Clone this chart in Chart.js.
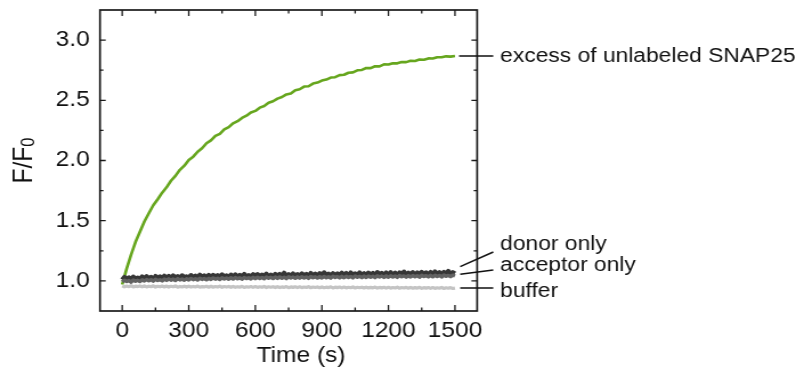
<!DOCTYPE html>
<html>
<head>
<meta charset="utf-8">
<script src="https://cdn.jsdelivr.net/npm/chart.js@4.4.1/dist/chart.umd.min.js"></script>
<style>
  html, body { margin: 0; padding: 0; background: #fff; overflow: hidden; }
  #wrap { width: 698px; height: 370px; transform: scaleX(1.1404); transform-origin: 0 0; }
  canvas { display: block; }
</style>
</head>
<body>
<div id="wrap"><canvas id="c" width="698" height="370"></canvas></div>
<script>
// Time stamps (s) of the SNAP25 trace, one reading every 20 s
const timeS = [0,20,40,60,80,100,120,140,160,180,200,220,240,260,280,300,320,340,360,380,
  400,420,440,460,480,500,520,540,560,580,600,620,640,660,680,700,720,740,760,780,
  800,820,840,860,880,900,920,940,960,980,1000,1020,1040,1060,1080,1100,1120,1140,1160,1180,
  1200,1220,1240,1260,1280,1300,1320,1340,1360,1380,1400,1420,1440,1460,1480,1500];

// Time stamps (s) of the control traces, one reading every 10 s
const timeFine = [
  0,10,20,30,40,50,60,70,80,90, 100,110,120,130,140,150,160,170,180,190,
  200,210,220,230,240,250,260,270,280,290, 300,310,320,330,340,350,360,370,380,390,
  400,410,420,430,440,450,460,470,480,490, 500,510,520,530,540,550,560,570,580,590,
  600,610,620,630,640,650,660,670,680,690, 700,710,720,730,740,750,760,770,780,790,
  800,810,820,830,840,850,860,870,880,890, 900,910,920,930,940,950,960,970,980,990,
  1000,1010,1020,1030,1040,1050,1060,1070,1080,1090, 1100,1110,1120,1130,1140,1150,1160,1170,1180,1190,
  1200,1210,1220,1230,1240,1250,1260,1270,1280,1290, 1300,1310,1320,1330,1340,1350,1360,1370,1380,1390,
  1400,1410,1420,1430,1440,1450,1460,1470,1480,1490, 1500];

// F/F0 traces
const excessSnap25 = [0.970,1.102,1.218,1.323,1.408,1.493,1.562,1.628,1.678,1.733,1.777,1.832,1.872,1.923,1.957,2.004,2.032,2.073,2.102,2.143,
  2.167,2.204,2.222,2.258,2.277,2.309,2.327,2.354,2.372,2.399,2.412,2.439,2.452,2.479,2.492,2.514,2.527,2.549,2.557,2.584,
  2.592,2.614,2.617,2.639,2.647,2.664,2.672,2.689,2.692,2.709,2.712,2.729,2.732,2.749,2.752,2.768,2.767,2.783,2.782,2.798,
  2.797,2.808,2.807,2.818,2.817,2.828,2.827,2.838,2.837,2.848,2.847,2.858,2.857,2.865,2.863,2.868];

const donorOnly = [
  1.010,1.034,1.016,1.030,1.008,1.036,1.020,1.028,1.012,1.038, 1.018,1.040,1.022,1.034,1.015,1.041,1.025,1.037,1.019,1.043,
  1.024,1.042,1.021,1.045,1.028,1.040,1.023,1.047,1.030,1.039, 1.026,1.049,1.031,1.044,1.027,1.052,1.034,1.046,1.029,1.050,
  1.032,1.051,1.030,1.048,1.036,1.055,1.033,1.047,1.029,1.053, 1.035,1.054,1.032,1.050,1.038,1.058,1.034,1.049,1.036,1.056,
  1.037,1.057,1.035,1.053,1.040,1.061,1.038,1.052,1.036,1.059, 1.040,1.058,1.037,1.068,1.042,1.056,1.039,1.062,1.043,1.057,
  1.041,1.063,1.044,1.058,1.039,1.066,1.045,1.060,1.042,1.064, 1.044,1.072,1.046,1.061,1.043,1.065,1.048,1.062,1.045,1.068,
  1.047,1.066,1.044,1.070,1.049,1.063,1.046,1.071,1.050,1.064, 1.048,1.069,1.051,1.066,1.047,1.074,1.052,1.067,1.049,1.070,
  1.050,1.072,1.053,1.068,1.049,1.071,1.054,1.078,1.052,1.069, 1.053,1.073,1.051,1.070,1.055,1.076,1.052,1.071,1.056,1.074,
  1.054,1.079,1.057,1.072,1.053,1.075,1.058,1.083,1.055,1.073, 1.062];

const acceptorOnly = [
  0.992,1.006,0.995,1.004,0.990,1.008,0.997,1.005,0.994,1.009, 0.999,1.012,1.001,1.011,0.998,1.014,1.003,1.010,1.000,1.015,
  1.004,1.017,1.006,1.015,1.003,1.019,1.008,1.016,1.005,1.018, 1.008,1.021,1.010,1.019,1.007,1.023,1.012,1.020,1.009,1.022,
  1.012,1.025,1.014,1.023,1.011,1.026,1.016,1.024,1.013,1.027, 1.015,1.028,1.017,1.026,1.014,1.029,1.019,1.027,1.016,1.030,
  1.018,1.031,1.020,1.029,1.017,1.032,1.022,1.030,1.019,1.033, 1.020,1.033,1.022,1.031,1.019,1.035,1.024,1.032,1.021,1.034,
  1.022,1.035,1.024,1.033,1.021,1.037,1.026,1.034,1.023,1.036, 1.024,1.037,1.026,1.035,1.023,1.039,1.028,1.036,1.025,1.038,
  1.026,1.039,1.028,1.037,1.025,1.041,1.030,1.038,1.027,1.040, 1.028,1.041,1.030,1.039,1.027,1.043,1.032,1.040,1.029,1.042,
  1.030,1.043,1.032,1.041,1.029,1.045,1.034,1.042,1.031,1.044, 1.032,1.045,1.034,1.043,1.031,1.047,1.036,1.044,1.033,1.046,
  1.034,1.047,1.036,1.045,1.033,1.049,1.038,1.046,1.035,1.048, 1.041];

const buffer = [
  0.959,0.951,0.957,0.952,0.960,0.950,0.956,0.953,0.958,0.951, 0.958,0.950,0.956,0.952,0.959,0.949,0.955,0.951,0.957,0.950,
  0.957,0.949,0.955,0.951,0.958,0.948,0.954,0.950,0.956,0.949, 0.956,0.949,0.954,0.950,0.957,0.948,0.953,0.950,0.955,0.948,
  0.955,0.948,0.953,0.949,0.956,0.947,0.953,0.949,0.954,0.947, 0.954,0.947,0.952,0.948,0.955,0.946,0.952,0.948,0.953,0.946,
  0.953,0.946,0.951,0.947,0.954,0.945,0.951,0.947,0.952,0.945, 0.952,0.945,0.950,0.946,0.953,0.944,0.950,0.946,0.951,0.944,
  0.951,0.944,0.949,0.945,0.952,0.943,0.949,0.945,0.950,0.943, 0.950,0.943,0.948,0.944,0.951,0.942,0.948,0.944,0.949,0.942,
  0.949,0.942,0.947,0.943,0.950,0.941,0.947,0.943,0.948,0.941, 0.948,0.941,0.946,0.942,0.949,0.940,0.946,0.942,0.947,0.940,
  0.947,0.940,0.945,0.941,0.948,0.939,0.945,0.941,0.946,0.939, 0.946,0.939,0.944,0.940,0.947,0.938,0.944,0.940,0.945,0.938,
  0.945,0.938,0.943,0.939,0.946,0.937,0.943,0.939,0.944,0.937, 0.940];

// Axis ticks
const xTicks = [0, 300, 600, 900, 1200, 1500];
const xMinorTicks = [150, 450, 750, 1050, 1350];
const yTicks = [1.0, 1.5, 2.0, 2.5, 3.0];
const yMinorTicks = [1.25, 1.75, 2.25, 2.75];

const FONT = "'Liberation Sans', Arial, Helvetica, sans-serif";

const toXY = (times, arr) => arr.map((v, i) => ({ x: times[i], y: v }));

const traces = [
  { label: 'buffer', data: toXY(timeFine, buffer), borderColor: '#c4c4c4', borderWidth: 3.2 },
  { label: 'acceptor only', data: toXY(timeFine, acceptorOnly), borderColor: '#626262', borderWidth: 3.4 },
  { label: 'donor only', data: toXY(timeFine, donorOnly), borderColor: '#363636', borderWidth: 4 },
  { label: 'excess of unlabeled SNAP25', data: toXY(timeS, excessSnap25), borderColor: '#66a61e', borderWidth: 2.6 }
];

// Boxed frame with inward ticks, trace labels and the axis titles
const decorations = {
  id: 'decorations',
  afterDatasetsDraw(chart) {
    const { ctx, chartArea: a, scales: { x, y } } = chart;
    ctx.save();
    ctx.strokeStyle = '#1a1a1a';
    ctx.lineWidth = 1.7;
    ctx.strokeRect(a.left, a.top, a.right - a.left, a.bottom - a.top);

    ctx.lineWidth = 1.3;
    ctx.beginPath();
    const vTick = (v, len) => {
      const px = x.getPixelForValue(v);
      ctx.moveTo(px, a.bottom); ctx.lineTo(px, a.bottom - len);
      ctx.moveTo(px, a.top); ctx.lineTo(px, a.top + len);
    };
    const hTick = (v, len) => {
      const py = y.getPixelForValue(v);
      ctx.moveTo(a.left, py); ctx.lineTo(a.left + len, py);
      ctx.moveTo(a.right, py); ctx.lineTo(a.right - len, py);
    };
    xTicks.forEach(v => vTick(v, 6));
    xMinorTicks.forEach(v => vTick(v, 3.5));
    yTicks.forEach(v => hTick(v, 5));
    yMinorTicks.forEach(v => hTick(v, 3));
    ctx.stroke();

    // connector lines from trace ends to their labels
    const last = arr => arr[arr.length - 1];
    const x0 = 403.5, x1 = 432.5;
    ctx.lineWidth = 1.5;
    ctx.strokeStyle = '#111';
    ctx.beginPath();
    const yEx = y.getPixelForValue(last(excessSnap25));
    ctx.moveTo(x0 - 1, yEx); ctx.lineTo(x1, yEx);
    ctx.moveTo(x0, 266.7); ctx.lineTo(x1, 252);
    ctx.moveTo(x0, 274.3); ctx.lineTo(x1, 270);
    const yBuf = y.getPixelForValue(last(buffer));
    ctx.moveTo(x0, yBuf); ctx.lineTo(x1, yBuf);
    ctx.stroke();

    ctx.fillStyle = '#111';
    ctx.font = `20px ${FONT}`;
    ctx.textAlign = 'left';
    ctx.textBaseline = 'alphabetic';
    ctx.fillText('excess of unlabeled SNAP25', 438.6, 62);
    ctx.fillText('donor only', 438.6, 249.5);
    ctx.fillText('acceptor only', 438.6, 271);
    ctx.fillText('buffer', 438.6, 296.5);

    // x title
    ctx.font = `21.5px ${FONT}`;
    ctx.textAlign = 'center';
    ctx.fillText('Time (s)', 264, 362);

    // y title F/F0 with subscript
    ctx.translate(28, (a.top + a.bottom) / 2);
    ctx.rotate(-Math.PI / 2);
    ctx.textAlign = 'left';
    ctx.font = `24.5px ${FONT}`;
    const w1 = ctx.measureText('F/F').width;
    ctx.font = `16.5px ${FONT}`;
    const w2 = ctx.measureText('0').width;
    const start = -(w1 + w2) / 2;
    ctx.font = `24.5px ${FONT}`;
    ctx.fillText('F/F', start, 0);
    ctx.font = `16.5px ${FONT}`;
    ctx.fillText('0', start + w1, 1.5);
    ctx.restore();
  }
};

new Chart(document.getElementById('c'), {
  type: 'line',
  data: {
    datasets: traces.map(t => ({
      ...t, pointRadius: 0, tension: 0, fill: false, borderJoinStyle: 'round'
    }))
  },
  options: {
    responsive: false,
    animation: false,
    devicePixelRatio: 1,
    layout: { padding: { top: 10, right: 279.6, left: 0, bottom: 0 } },
    plugins: { legend: { display: false }, tooltip: { enabled: false } },
    scales: {
      x: {
        type: 'linear', min: -100, max: 1600,
        grid: { display: false, drawTicks: false },
        border: { display: false },
        afterBuildTicks: s => { s.ticks = xTicks.map(v => ({ value: v })); },
        afterFit: s => { s.height = 59; s.paddingLeft = 0; s.paddingRight = 0; },
        ticks: { padding: 7, color: '#111', font: { family: FONT, size: 21.5 }, callback: v => String(v), maxRotation: 0 }
      },
      y: {
        type: 'linear', min: 0.75, max: 3.25,
        grid: { display: false, drawTicks: false },
        border: { display: false },
        afterBuildTicks: s => { s.ticks = yTicks.map(v => ({ value: v })); },
        afterFit: s => { s.width = 87.7; s.paddingTop = 0; s.paddingBottom = 0; },
        ticks: { padding: 9, color: '#111', font: { family: FONT, size: 21.5 }, callback: v => Number(v).toFixed(1) }
      }
    }
  },
  plugins: [decorations]
});
</script>
</body>
</html>
